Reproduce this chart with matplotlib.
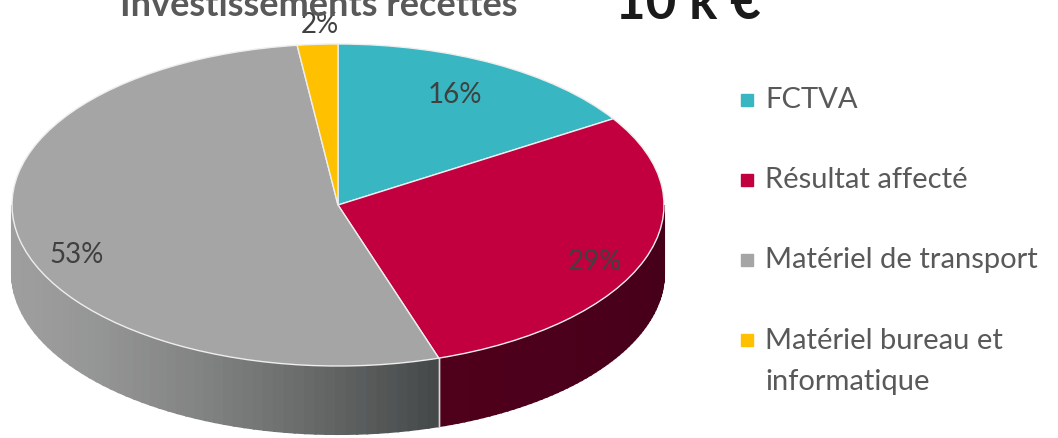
import numpy as np
import matplotlib.pyplot as plt
from matplotlib.patches import Rectangle
from matplotlib.colors import to_rgb

# data
labels = ['FCTVA', 'Résultat affecté', 'Matériel de transport', 'Matériel bureau et\ninformatique']
values = [16, 29, 53, 2]
pct_text = ['16%', '29%', '53%', '2%']
colors = ['#38B6C1', '#C3003F', '#A5A5A5', '#FFC000']
side_light = ['#2a8a93', '#4f001b', '#9e9e9e', '#c09000']
side_dark = ['#1f6a70', '#47001a', '#454848', '#a07800']

W, H = 1058, 438
plt.rcParams['font.family'] = ['Lato', 'DejaVu Sans']

fig = plt.figure(figsize=(W / 100, H / 100), dpi=100)
ax = fig.add_axes([0, 0, 1, 1])

# ellipse geometry (pixels): squash y so a circle becomes the tilted top
R = 326
s = 161 / 326
cx, cy_px = 338, 205
depth_px = 68
cy = (H - cy_px) / s
dd = depth_px / s

# angles of each slice, clockwise from 12 o'clock
total = float(sum(values))
bounds = 90 - 360 * np.concatenate([[0], np.cumsum(values)]) / total

# side wall (front half only, angles between -180 and 0)
for i in range(len(values)):
    a1, a2 = bounds[i + 1], bounds[i]
    lo, hi = max(a1, -180), min(a2, 0)
    if hi <= lo:
        continue
    ts = np.linspace(lo, hi, 60)
    xs_all = cx + R * np.cos(np.radians(ts))
    xmin, xmax = xs_all.min(), xs_all.max()
    c_l, c_d = np.array(to_rgb(side_light[i])), np.array(to_rgb(side_dark[i]))
    for k in range(len(ts) - 1):
        t0, t1 = np.radians(ts[k]), np.radians(ts[k + 1])
        x0, x1 = cx + R * np.cos(t0), cx + R * np.cos(t1)
        y0, y1 = cy + R * np.sin(t0), cy + R * np.sin(t1)
        f = ((0.5 * (x0 + x1) - xmin) / (xmax - xmin)) ** 1.4
        col = c_l * (1 - f) + c_d * f
        ax.fill([x0, x1, x1, x0], [y0, y1, y1 - dd, y0 - dd], color=col,
                lw=1.5, ec=col, zorder=1)
    # light seam at slice boundaries on the wall
    for a in (a1, a2):
        if -180 < a < 0:
            xa, ya = cx + R * np.cos(np.radians(a)), cy + R * np.sin(np.radians(a))
            ax.plot([xa, xa], [ya, ya - dd], color='#d8d8d8', lw=1, zorder=2)

# top of the pie
wedges, _ = ax.pie(values, colors=colors, startangle=90, counterclock=False,
                   center=(cx, cy), radius=R,
                   wedgeprops=dict(edgecolor='#eeeeee', linewidth=1, zorder=3))
ax.set_aspect('auto')
ax.set_xlim(0, W)
ax.set_ylim(0, H / s)
ax.axis('off')

# percentage labels (pixel positions)
pct_pos = [(455, 95), (595, 262), (77, 255), (320, 25)]
for t, (xp, yp) in zip(pct_text, pct_pos):
    fig.text(xp / W, 1 - yp / H, t, ha='center', va='center', fontsize=20,
             color='#404040')

# legend
leg_y = [100, 180, 260, 340]
for lab, col, yp in zip(labels, colors, leg_y):
    fig.patches.append(Rectangle((741 / W, 1 - (yp + 6) / H), 12 / W, 12 / H,
                                 transform=fig.transFigure, color=col))
    if '\n' in lab:
        fig.text(765 / W, 1 - (yp - 12) / H, lab, ha='left', va='top',
                 fontsize=21, color='#595959', linespacing=1.7)
    else:
        fig.text(765 / W, 1 - yp / H, lab, ha='left', va='center',
                 fontsize=21, color='#595959')

# title (clipped at top like the original)
fig.text(120 / W, 1 - 16 / H, 'Investissements recettes', fontsize=26,
         fontweight='bold', color='#595959', va='baseline')
fig.text(615 / W, 1 - 19 / H, '10 k €', fontsize=38, fontweight='bold',
         color='#1a1a1a', va='baseline')

plt.savefig('out.png', dpi=100)
